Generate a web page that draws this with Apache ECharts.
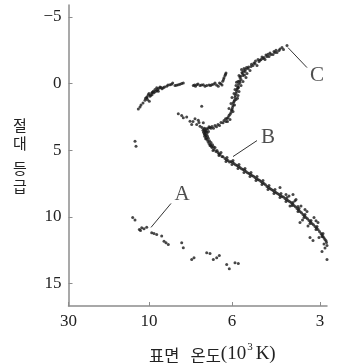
<!DOCTYPE html>
<html>
<head>
<meta charset="utf-8">
<script src="https://cdn.jsdelivr.net/npm/echarts@6/dist/echarts.min.js"></script>
<style>
  html, body { margin: 0; padding: 0; background: #fff; }
  #chart { width: 340px; height: 363px; }
</style>
</head>
<body>
<div id="chart"></div>
<script>
// x = position along the (non-uniform) temperature axis, y = absolute magnitude
const tickPos = [0, 0.805, 1.635, 2.515]
const tickLabels = ['30', '10', '6', '3']
const magTicks = [-5, 0, 5, 10, 15]

const horizontalBranch = [
  [0.698, 1.90], [0.715, 1.75], [0.725, 1.60], [0.745, 1.45], [0.765, 1.25], [0.770, 1.10],
  [0.782, 1.07], [0.785, 0.98], [0.790, 1.20], [0.798, 0.83], [0.805, 0.75], [0.808, 1.33],
  [0.815, 0.95], [0.820, 0.88], [0.832, 0.70], [0.835, 0.83], [0.840, 0.65], [0.848, 0.58],
  [0.855, 0.68], [0.865, 0.45], [0.870, 0.60], [0.882, 0.32], [0.885, 0.53], [0.890, 0.45],
  [0.898, 0.58], [0.905, 0.35], [0.915, 0.25], [0.925, 0.30], [0.935, 0.38], [0.948, 0.32],
  [0.960, 0.25], [0.982, 0.20], [0.995, 0.10], [1.015, 0.08], [1.030, 0.05], [1.042, -0.05],
  [1.065, 0.15], [1.080, 0.12], [1.098, 0.08], [1.115, 0.05], [1.132, 0.00], [1.148, -0.05],
  [1.248, 0.15], [1.260, 0.10], [1.270, 0.20], [1.282, 0.08], [1.295, 0.04], [1.315, 0.15],
  [1.330, 0.10], [1.348, 0.08], [1.365, 0.20], [1.382, 0.15], [1.405, 0.11], [1.420, 0.15],
  [1.432, 0.08], [1.450, 0.05], [1.465, -0.05], [1.480, 0.10], [1.498, 0.20], [1.510, -0.05],
  [1.522, 0.02], [1.535, 0.10], [1.542, -0.17], [1.550, -0.30], [1.555, -0.43], [1.565, -0.60],
  [1.570, -0.70], [1.575, -0.80]
]

const subgiants = [
  [1.098, 2.27], [1.132, 2.40], [1.148, 2.57], [1.182, 2.50], [1.215, 2.83], [1.232, 3.08],
  [1.245, 2.85], [1.265, 2.65], [1.282, 3.08], [1.298, 2.75], [1.305, 2.93], [1.315, 3.20],
  [1.332, 1.70], [1.335, 3.30], [1.348, 2.95],
  [0.665, 4.33], [0.675, 4.70]
]

const giants = [
  [1.355, 3.45], [1.365, 3.58], [1.365, 3.68], [1.375, 3.53], [1.385, 3.75], [1.395, 3.38],
  [1.375, 3.90], [1.415, 3.30], [1.435, 3.23], [1.465, 3.15], [1.495, 3.08], [1.525, 2.93],
  [1.555, 2.78], [1.585, 2.63], [1.605, 2.40], [1.625, 2.18], [1.635, 1.95], [1.645, 1.65],
  [1.655, 1.35], [1.665, 1.05], [1.675, 0.75], [1.685, 0.45], [1.695, 0.23], [1.715, -0.08],
  [1.725, -0.30], [1.745, -0.60], [1.765, -0.90], [1.795, -1.13], [1.825, -1.28], [1.865, -1.50],
  [1.905, -1.65], [1.945, -1.88], [1.985, -2.03], [2.025, -2.18], [2.065, -2.33], [2.105, -2.48],
  [2.135, -2.70], [2.185, -2.85],
  [1.595, 2.55], [1.615, 2.70], [1.575, 2.85], [1.645, 2.10], [1.605, 1.88], [1.625, 1.50],
  [1.675, 1.20], [1.635, 1.05], [1.655, 0.75], [1.695, 0.90], [1.665, 0.45], [1.705, 0.60],
  [1.675, 0.15], [1.725, 0.15], [1.695, -0.15], [1.745, -0.15], [1.715, -0.45], [1.775, -0.45],
  [1.735, -0.83], [1.785, -0.75], [1.755, -1.13], [1.815, -0.98], [1.845, -1.35], [1.885, -1.35],
  [1.925, -1.80], [1.965, -1.80], [2.005, -2.03], [2.045, -2.18], [2.085, -2.33],
  [1.615, 2.30], [1.630, 2.00], [1.640, 1.80], [1.648, 1.45], [1.660, 1.25], [1.668, 0.90],
  [1.680, 0.60], [1.690, 0.35], [1.700, 0.05], [1.710, -0.20], [1.720, -0.55], [1.740, -0.75],
  [1.750, -0.95], [1.770, -1.05], [1.780, -1.20], [1.800, -1.25], [1.830, -1.45], [1.855, -1.55],
  [1.870, -1.70], [1.895, -1.80], [1.915, -1.75], [1.935, -2.00], [1.955, -1.95], [1.975, -2.15],
  [1.995, -2.20], [2.015, -2.30], [2.055, -2.40], [2.075, -2.50], [2.115, -2.60], [2.150, -2.55],
  [1.660, 1.60], [1.690, 1.10], [1.700, 0.30], [1.680, -0.10], [1.705, -0.60], [1.730, -1.05],
  [1.760, -0.65], [1.545, 2.95], [1.510, 3.15], [1.480, 3.25], [1.450, 3.35], [1.570, 2.65],
  [1.590, 2.85]
]

const mainSequence = [
  [1.345, 3.50], [1.350, 3.65], [1.358, 3.78], [1.362, 3.95], [1.372, 4.15], [1.380, 3.62],
  [1.390, 3.95], [1.398, 4.10], [1.400, 3.60], [1.410, 4.30], [1.420, 4.60], [1.428, 4.70],
  [1.440, 4.60], [1.450, 4.75], [1.360, 3.35], [1.380, 3.40], [1.405, 3.25], [1.425, 3.35],
  [1.365, 3.83], [1.375, 4.05], [1.385, 4.20], [1.395, 4.35], [1.405, 4.50], [1.415, 4.65],
  [1.425, 4.43], [1.435, 4.80], [1.455, 4.95], [1.475, 5.10], [1.495, 5.18], [1.515, 5.33],
  [1.535, 5.48], [1.565, 5.63], [1.595, 5.78], [1.625, 5.85], [1.655, 6.00], [1.685, 6.15],
  [1.715, 6.30], [1.745, 6.45], [1.775, 6.60], [1.805, 6.75], [1.835, 6.90], [1.865, 7.05],
  [1.895, 7.20], [1.925, 7.35], [1.955, 7.50], [1.985, 7.73], [2.015, 7.88], [2.045, 8.03],
  [2.075, 8.18], [2.105, 8.33], [2.135, 8.48], [2.165, 8.63], [2.195, 8.78], [2.225, 8.93],
  [2.255, 9.15], [2.285, 9.38], [2.315, 9.60], [2.345, 9.83], [2.375, 10.05], [2.405, 10.28],
  [2.435, 10.50], [2.465, 10.73], [2.495, 10.95], [2.525, 11.25], [2.545, 11.48], [2.565, 11.70],
  [2.580, 11.93],
  [1.485, 5.02], [1.505, 5.28], [1.545, 5.50], [1.580, 5.72], [1.610, 5.88], [1.640, 5.90],
  [1.670, 6.10], [1.700, 6.22], [1.730, 6.40], [1.760, 6.50], [1.790, 6.70], [1.820, 6.82],
  [1.850, 6.95], [1.880, 7.15], [1.910, 7.25], [1.940, 7.45], [1.970, 7.60], [2.000, 7.80],
  [2.030, 7.95], [2.060, 8.12], [2.090, 8.25], [2.120, 8.42], [2.150, 8.52], [2.180, 8.72],
  [2.210, 8.85], [2.240, 9.05], [2.270, 9.25], [2.300, 9.50], [2.330, 9.70], [2.360, 9.95],
  [2.390, 10.15], [2.420, 10.40], [2.450, 10.60], [2.480, 10.85], [2.510, 11.10], [2.535, 11.35],
  [2.555, 11.60], [2.575, 11.80],
  [1.465, 4.80], [1.525, 5.18], [1.585, 5.55], [1.645, 5.78], [1.705, 6.08], [1.765, 6.38],
  [1.825, 6.68], [1.885, 6.98], [1.945, 7.28], [2.005, 7.65], [2.065, 7.95], [2.125, 8.25],
  [2.185, 8.55], [2.245, 8.93], [2.305, 9.38], [2.365, 9.83], [2.425, 10.28], [2.485, 10.73],
  [2.545, 11.25],
  [1.445, 5.03], [1.505, 5.40], [1.575, 5.85], [1.635, 6.08], [1.695, 6.38], [1.755, 6.68],
  [1.815, 6.98], [1.875, 7.28], [1.935, 7.58], [1.995, 7.95], [2.055, 8.25], [2.115, 8.55],
  [2.175, 8.85], [2.235, 9.15], [2.295, 9.60], [2.355, 10.05], [2.415, 10.50], [2.475, 10.95],
  [2.535, 11.48], [2.585, 12.15],
  [2.115, 7.80], [2.245, 8.33], [2.295, 9.23], [2.365, 9.45], [2.315, 10.43], [2.495, 10.43],
  [2.415, 11.55], [2.445, 11.78], [2.535, 12.60], [2.585, 13.20], [2.175, 8.33], [2.275, 8.70],
  [2.205, 8.45], [2.265, 8.80], [2.325, 9.20], [2.385, 9.60], [2.455, 10.05], [2.475, 10.30],
  [2.395, 10.70], [2.505, 11.55], [2.555, 12.05], [2.565, 12.35], [2.215, 9.20], [2.340, 10.25]
]

const whiteDwarfs = [
  [0.642, 10.05], [0.665, 10.25], [0.708, 10.95], [0.720, 11.03], [0.732, 10.82], [0.755, 10.90],
  [0.782, 10.78], [0.832, 11.20], [0.855, 11.25], [0.882, 11.33], [0.932, 11.45], [0.955, 11.83],
  [0.975, 11.95], [0.998, 12.08], [1.132, 11.95], [1.148, 12.33], [1.232, 13.20], [1.255, 13.07],
  [1.382, 12.70], [1.415, 12.75], [1.448, 13.20], [1.482, 13.07], [1.508, 12.90], [1.582, 13.58],
  [1.608, 13.90], [1.665, 13.45], [1.698, 13.50]
]

// label leader lines [from, to] and letter positions
const labelNames = ['A', 'B', 'C']
const leaderLines = [
  [[0.825, 10.80], [1.025, 9.00]],
  [[1.645, 5.48], [1.885, 4.28]],
  [[2.195, -2.70], [2.385, -1.20]]
]
const labelPos = [[1.135, 8.33], [1.995, 4.05], [2.485, -0.60]]

const serif = '"Liberation Serif", "Noto Sans CJK KR", serif'
const dotStyle = { color: '#1a1a1a' }
const dots = (data) => ({ type: 'scatter', data, symbolSize: 3, itemStyle: dotStyle, silent: true })

const chart = echarts.init(document.getElementById('chart'), null, { renderer: 'canvas' })

chart.setOption({
  animation: false,
  backgroundColor: '#fff',
  grid: { left: 68.5, right: 13, top: 5, bottom: 57 },
  xAxis: {
    type: 'value', min: 0, max: 2.585,
    axisLine: { onZero: false, lineStyle: { color: '#8c8c8c', width: 1.5 } },
    axisTick: { inside: true, length: 4, customValues: tickPos, lineStyle: { color: '#8c8c8c', width: 1 } },
    axisLabel: {
      customValues: tickPos, margin: 7, color: '#222', fontFamily: serif, fontSize: 17,
      formatter: v => tickLabels[tickPos.indexOf(v)]
    },
    splitLine: { show: false }
  },
  yAxis: {
    type: 'value', inverse: true, min: -5.9, max: 16.7,
    axisLine: { show: true, onZero: false, lineStyle: { color: '#8c8c8c', width: 1.5 } },
    axisTick: { show: true, inside: true, length: 4, customValues: magTicks, lineStyle: { color: '#8c8c8c', width: 1 } },
    axisLabel: {
      customValues: magTicks, margin: 7, color: '#222', fontFamily: serif, fontSize: 17,
      formatter: v => v < 0 ? '\u2212' + Math.abs(v) : String(v)
    },
    splitLine: { show: false }
  },
  graphic: [
    {
      type: 'text', left: 13, top: 118,
      style: {
        text: '{t|절}\n{t|대}\n{g| }\n{t|등}\n{t|급}',
        rich: {
          t: { fontFamily: '"Noto Sans CJK KR"', fontSize: 15, lineHeight: 17.5, fill: '#222' },
          g: { fontSize: 8, lineHeight: 8 }
        }
      }
    },
    {
      type: 'text', left: 149, top: 342,
      style: {
        text: '{k|표면   온도}{s|(10}{p|3}{s|K)}',
        rich: {
          k: { fontFamily: '"Noto Sans CJK KR"', fontSize: 16.5, fill: '#222', lineHeight: 22, verticalAlign: 'bottom' },
          s: { fontFamily: serif, fontSize: 19, fill: '#222', lineHeight: 22, verticalAlign: 'bottom' },
          p: { fontFamily: serif, fontSize: 11, fill: '#222', lineHeight: 22, verticalAlign: 'top', padding: [0, 3, 0, 1] }
        }
      }
    }
  ],
  series: [
    dots(horizontalBranch),
    dots(subgiants),
    dots(giants),
    dots(mainSequence),
    dots(whiteDwarfs),
    ...leaderLines.map(seg => ({
      type: 'line', data: seg, symbol: 'none', silent: true,
      lineStyle: { color: '#333', width: 1 }
    })),
    {
      type: 'scatter', symbolSize: 0, silent: true,
      data: labelPos.map((p, i) => ({ value: p, name: labelNames[i] })),
      label: {
        show: true, position: 'inside', formatter: '{b}',
        fontFamily: serif, fontSize: 21, color: '#222'
      }
    }
  ]
})

window.addEventListener('resize', () => chart.resize())
</script>
</body>
</html>
